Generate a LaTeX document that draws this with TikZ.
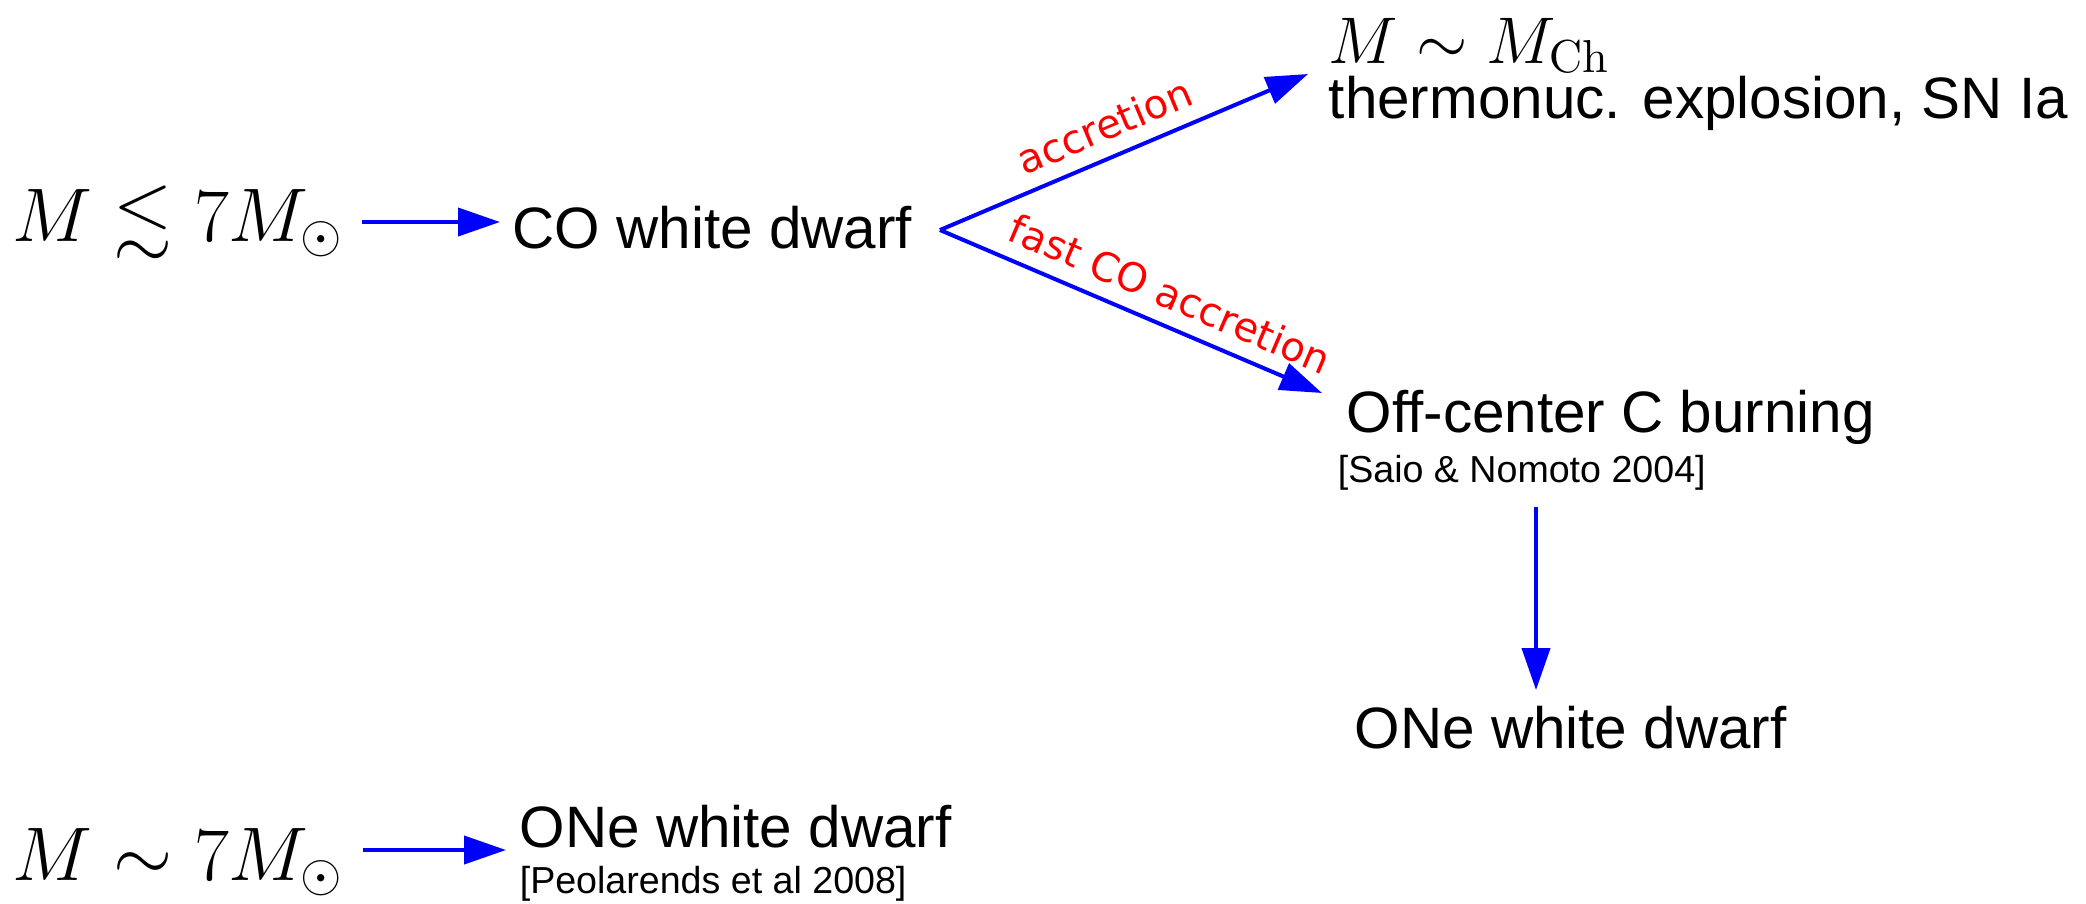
\RequirePackage{fix-cm}
\documentclass[tikz,border=0pt]{standalone}
\usepackage{amssymb}
\usepackage[no-math]{fontspec}
\setmainfont{Liberation Sans}
\newfontfamily\dvfont{DejaVu Sans}
\usetikzlibrary{arrows.meta}
\tikzset{
  arr/.style={draw=blue, line width=1pt, -{Triangle[length=10.5pt,width=7pt]}},
  txt/.style={anchor=base west, inner sep=0pt, font=\fontsize{14.6}{17}\selectfont},
  ref/.style={anchor=base west, inner sep=0pt, font=\fontsize{9.4}{11}\selectfont},
  mth/.style={anchor=base west, inner sep=0pt, font=\fontsize{19}{23}\selectfont},
  mthsmall/.style={anchor=base west, inner sep=0pt, font=\fontsize{16.5}{20}\selectfont},
  lbl/.style={text=red, font=\dvfont\fontsize{10}{12}\selectfont, sloped, inner sep=3.6pt}
}
\begin{document}
\begin{tikzpicture}[x=0.25pt,y=-0.25pt]
\useasboundingbox (0,0) rectangle (2086,903);
% nodes
\node[mth] (m1) at (12,241) {$M \lesssim 7M_\odot$};
\node[txt] (co) at (512,248) {CO white dwarf};
\coordinate (br) at (940,230);
\node[mthsmall] (mch) at (1328,63) {$M \sim M_{\mathrm{Ch}}$};
\node[txt] (thermo) at (1328,118) {thermonuc. explosion, SN Ia};
\node[txt] (off) at (1346,432) {Off-center C burning};
\node[ref] (saio) at (1337,482) {[Saio \& Nomoto 2004]};
\node[txt] (one1) at (1354,748) {ONe white dwarf};
\node[mth] (m2) at (12,880) {$M \sim 7M_\odot$};
\node[txt] (one2) at (519,847) {ONe white dwarf};
\node[ref] (peol) at (519,893) {[Peolarends et al 2008]};
% connectors
\draw[arr] ([shift={(4.25pt,4.75pt)}]m1.base east) -- ([shift={(-3pt,6.5pt)}]co.base west);
\draw[blue, line width=1pt] ([xshift=7pt,yshift=4.5pt]co.base east) -- (br);
\draw[arr] (br) -- node[lbl, above, pos=0.48] {accretion} ([shift={(-5pt,11pt)}]thermo.base west);
\draw[arr] (br) -- node[lbl, above, pos=0.57] {fast CO accretion} ([shift={(-6pt,9.75pt)}]off.base west);
\draw[arr] ([shift={(49.75pt,-6.25pt)}]saio.base west) -- ([shift={(45.5pt,14.5pt)}]one1.base west);
\draw[arr] ([shift={(4.5pt,7.5pt)}]m2.base east) -- ([shift={(-3.25pt,-0.75pt)}]one2.base west);
\end{tikzpicture}
\end{document}
